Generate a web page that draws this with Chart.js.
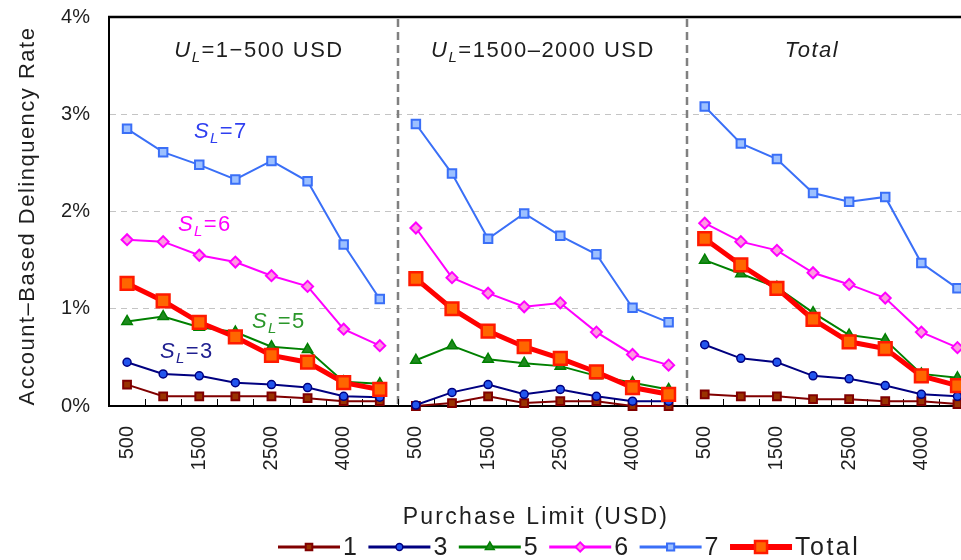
<!DOCTYPE html>
<html><head><meta charset="utf-8">
<script src="https://cdn.jsdelivr.net/npm/chart.js@4/dist/chart.umd.min.js"></script>
<style>
html,body{margin:0;padding:0;background:#fff;overflow:hidden;width:961px;height:560px}
#wrap{position:relative;width:987px;height:560px}
canvas{display:block}
</style></head><body>
<div id="wrap"><canvas id="c" width="987" height="560"></canvas></div>
<script>
// ---------- data ----------
const purchaseLimits = ['500','1000','1500','2000','2500','3000','4000','5000'];
const panelKeys = ['1-500', '1500-2000', 'Total'];
const categories = panelKeys.flatMap(() => purchaseLimits);

const seriesNames = ['1', '3', '5', '6', '7', 'Total'];

const s1 = [0.22,0.10,0.10,0.10,0.10,0.08,0.05,0.05,  0.00,0.03,0.10,0.03,0.05,0.05,0.00,0.00,  0.12,0.10,0.10,0.07,0.07,0.05,0.05,0.02];
const s3 = [0.45,0.33,0.31,0.24,0.22,0.19,0.10,0.09,  0.01,0.14,0.22,0.12,0.17,0.10,0.05,0.05,  0.63,0.49,0.45,0.31,0.28,0.21,0.12,0.10];
const s5 = [0.87,0.92,0.81,0.76,0.61,0.58,0.25,0.23,  0.47,0.62,0.48,0.44,0.41,0.31,0.24,0.17,  1.50,1.36,1.22,0.96,0.73,0.68,0.33,0.29];
const s6 = [1.71,1.69,1.55,1.48,1.34,1.23,0.79,0.62,  1.83,1.32,1.16,1.02,1.06,0.76,0.53,0.42,  1.88,1.69,1.60,1.37,1.25,1.11,0.76,0.60];
const s7 = [2.85,2.61,2.48,2.33,2.52,2.31,1.66,1.10,  2.90,2.39,1.72,1.98,1.75,1.56,1.01,0.86,  3.08,2.70,2.54,2.19,2.10,2.15,1.47,1.21];
const sTotal = [1.26,1.08,0.86,0.71,0.52,0.45,0.24,0.17,  1.31,1.00,0.77,0.61,0.49,0.35,0.19,0.12,  1.72,1.45,1.21,0.89,0.66,0.59,0.31,0.21];

const yTicks = [0, 1, 2, 3, 4];
const panelTitles = [
  [{t:'U',it:true},{t:'L',it:true,sub:true},{t:'=1\u2212500 USD'}],
  [{t:'U',it:true},{t:'L',it:true,sub:true},{t:'=1500\u20132000 USD'}],
  [{t:'Total',it:true}]
];
const annotationLabels = ['7','6','5','3'];

// ---------- styles ----------
const FONT = '"Liberation Sans", Arial, sans-serif';
const TXT = '#1e1e1e';
const styles = {
  '1':    {line:'#800000', fill:'#993300', edge:'#800000', ps:'rect', r:5.5, bw:2, lw:2, order:2},
  '3':    {line:'#000080', fill:'#2255ee', edge:'#000080', ps:'circle', r:4, bw:1.5, lw:2, order:1},
  '5':    {line:'#008000', fill:'#1f8a1f', edge:'#008000', ps:'triangle', r:6, bw:1.5, lw:2, order:3},
  '6':    {line:'#ff00ff', fill:'#ff99e0', edge:'#ff00ff', ps:'rectRot', r:5.5, bw:2, lw:2, order:4},
  '7':    {line:'#3a6ff7', fill:'#9cc0ff', edge:'#3a6ff7', ps:'rect', r:6, bw:2, lw:2, order:5},
  'Total':{line:'#ff0000', fill:'#ff6600', edge:'#ff1a00', ps:'rect', r:9, bw:2.5, lw:5, order:0}
};
const seriesData = {'1':s1,'3':s3,'5':s5,'6':s6,'7':s7,'Total':sTotal};

const datasets = seriesNames.map(n => {
  const st = styles[n];
  return {
    label: n, data: seriesData[n],
    borderColor: st.line, borderWidth: st.lw,
    pointStyle: st.ps, pointRadius: st.r, pointBackgroundColor: st.fill,
    pointBorderColor: st.edge, pointBorderWidth: st.bw,
    pointHoverRadius: st.r,
    order: st.order, clip: false, tension: 0, fill: false,
    segment: { borderColor: c => (c.p0DataIndex % 8 === 7 ? 'rgba(0,0,0,0)' : undefined) }
  };
});

// ---------- helpers ----------
function drawRich(ctx, parts, x, baseline, size, color, spacing, align) {
  ctx.save();
  ctx.fillStyle = color;
  ctx.textBaseline = 'alphabetic';
  ctx.textAlign = 'left';
  let w = 0;
  const segs = parts.map(p => {
    const fs = p.sub ? Math.round(size * 0.68) : size;
    const font = (p.it ? 'italic ' : '') + fs + 'px ' + FONT;
    ctx.font = font; ctx.letterSpacing = spacing + 'px';
    const mw = ctx.measureText(p.t).width;
    w += mw;
    return {t:p.t, font, w:mw, dy: p.sub ? size * 0.24 : 0};
  });
  let cx = align === 'center' ? x - w / 2 : x;
  segs.forEach(s => { ctx.font = s.font; ctx.letterSpacing = spacing + 'px'; ctx.fillText(s.t, cx, baseline + s.dy); cx += s.w; });
  ctx.restore();
}

const overlay = {
  id: 'overlay',
  beforeDatasetsDraw(chart) {
    const {ctx, chartArea: a, scales: {x}} = chart;
    ctx.save();
    // panel dividers
    ctx.strokeStyle = '#808080'; ctx.lineWidth = 2.5; ctx.setLineDash([8, 5]);
    [7, 15].forEach(i => {
      const px = Math.round((x.getPixelForValue(i) + x.getPixelForValue(i + 1)) / 2);
      ctx.beginPath(); ctx.moveTo(px, a.top + 2); ctx.lineTo(px, a.bottom); ctx.stroke();
    });
    ctx.setLineDash([]);
    // inside tick marks at category boundaries
    ctx.strokeStyle = '#000'; ctx.lineWidth = 1;
    for (let i = 0; i < categories.length - 1; i++) {
      const px = Math.round((x.getPixelForValue(i) + x.getPixelForValue(i + 1)) / 2) + 0.5;
      ctx.beginPath(); ctx.moveTo(px, a.bottom); ctx.lineTo(px, a.bottom - 7); ctx.stroke();
    }
    // top frame
    ctx.lineWidth = 2.5;
    ctx.beginPath(); ctx.moveTo(a.left - 1, a.top); ctx.lineTo(a.right, a.top); ctx.stroke();
    ctx.restore();
  },
  afterDraw(chart) {
    const {ctx} = chart;
    // panel titles
    const titleX = [259, 543, 812];
    panelTitles.forEach((p, i) => drawRich(ctx, p, titleX[i], 57, 22, TXT, 1.5, 'center'));
    // S_L annotations
    const ann = [
      {x:194, y:138, c:'#2f3ff0'},
      {x:178, y:231, c:'#ff00ff'},
      {x:252, y:328, c:'#2a962a'},
      {x:160, y:358, c:'#202090'}
    ];
    annotationLabels.forEach((v, i) => {
      drawRich(ctx, [{t:'S',it:true},{t:'L',it:true,sub:true},{t:'='+v}], ann[i].x, ann[i].y, 22, ann[i].c, 1.4, 'left');
    });
    // y axis title
    ctx.save();
    ctx.translate(34, 216); ctx.rotate(-Math.PI / 2);
    ctx.font = '22px ' + FONT; ctx.letterSpacing = '1.5px';
    ctx.fillStyle = TXT; ctx.textAlign = 'center'; ctx.textBaseline = 'alphabetic';
    ctx.fillText('Account\u2013Based Delinquency Rate', 0, 0);
    ctx.restore();
    // x axis title
    ctx.save();
    ctx.font = '23px ' + FONT; ctx.letterSpacing = '2.2px';
    ctx.fillStyle = TXT; ctx.textAlign = 'center'; ctx.textBaseline = 'alphabetic';
    ctx.fillText('Purchase Limit (USD)', 536, 524);
    ctx.restore();
    // legend
    ctx.save();
    let lx = 278; const ly = 547;
    ctx.font = '25px ' + FONT; ctx.letterSpacing = '2.5px';
    seriesNames.forEach(n => {
      const st = styles[n];
      ctx.strokeStyle = st.line; ctx.lineWidth = n === 'Total' ? 6 : 3;
      ctx.beginPath(); ctx.moveTo(lx, ly); ctx.lineTo(lx + 62, ly); ctx.stroke();
      ctx.fillStyle = st.fill; ctx.strokeStyle = st.edge; ctx.lineWidth = st.bw;
      Chart.helpers.drawPoint(ctx, {pointStyle: st.ps, radius: n === 'Total' ? 8.5 : st.r * 0.85, rotation: 0, borderWidth: st.bw}, lx + 31, ly);
      ctx.fillStyle = TXT; ctx.textBaseline = 'middle'; ctx.textAlign = 'left';
      ctx.font = '25px ' + FONT; ctx.letterSpacing = '2.5px';
      ctx.fillText(n, lx + 65, ly + 1);
      lx += 65 + ctx.measureText(n).width + 9;
    });
    ctx.restore();
  }
};

new Chart(document.getElementById('c'), {
  type: 'line',
  data: { labels: categories, datasets },
  options: {
    responsive: false, animation: false, devicePixelRatio: 1,
    layout: { padding: { left: 0, top: 17, right: 5, bottom: 0 } },
    plugins: { legend: { display: false }, tooltip: { enabled: false } },
    scales: {
      x: {
        type: 'category', offset: true,
        grid: { display: false, drawTicks: false },
        border: { display: true, color: '#000', width: 2 },
        ticks: {
          autoSkip: false, minRotation: 90, maxRotation: 90, padding: 20,
          color: TXT, font: { family: FONT, size: 20 },
          callback: function (v, i) { return i % 2 === 0 ? this.getLabelForValue(v) : ''; }
        },
        afterFit: s => { s.height = 154; s.paddingLeft = 0; s.paddingRight = 0; }
      },
      y: {
        min: 0, max: 4,
        afterBuildTicks: s => { s.ticks = yTicks.map(v => ({value: v})); },
        grid: { drawTicks: false, lineWidth: 1,
          color: c => (c.tick && c.tick.value > 0 && c.tick.value < 4) ? '#c4c4c4' : 'rgba(0,0,0,0)' },
        border: { display: true, color: '#000', width: 2, dash: [6, 5] },
        ticks: { padding: 19, color: TXT, font: { family: FONT, size: 20 }, callback: v => v + '%' },
        afterFit: s => { s.width = 109; s.paddingTop = 0; s.paddingBottom = 0; }
      }
    }
  },
  plugins: [overlay]
});
</script>
</body></html>
